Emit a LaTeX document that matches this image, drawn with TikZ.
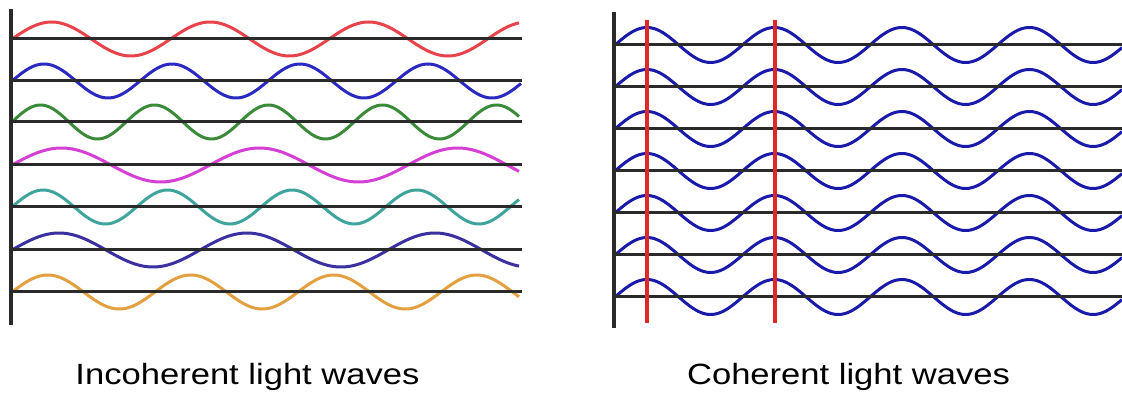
\documentclass[tikz,border=0pt]{standalone}
\usepackage{graphicx}
\usepackage{fontspec}
\setmainfont{Liberation Sans}
\definecolor{wred}{HTML}{E8434A}
\definecolor{wblue}{HTML}{2A2AC0}
\definecolor{wgreen}{HTML}{3A8A3A}
\definecolor{wmag}{HTML}{D440D4}
\definecolor{wteal}{HTML}{3FA59C}
\definecolor{wpurple}{HTML}{3A30A0}
\definecolor{worange}{HTML}{E2A040}
\definecolor{cblue}{HTML}{1A1AAA}
\definecolor{axisgray}{HTML}{2A2A2A}
\definecolor{vred}{HTML}{E02828}
\tikzset{
  baseline line/.style={draw=axisgray, line width=3pt},
  axis line/.style={draw=axisgray, line width=3.2pt},
  wave line/.style={line width=3pt, line join=round},
  marker line/.style={draw=vred, line width=3.4pt},
  caption/.style={font=\fontsize{29.3}{35}\selectfont, anchor=base, inner sep=0pt},
}
\begin{document}
\begin{tikzpicture}[x=1pt,y=-1pt]
\useasboundingbox (0,0) rectangle (1122,403);
% ---------- left panel: incoherent ----------
% colour / centre y / period / end x
\foreach \col/\yc/\per/\xe in {wred/39/158.5/519, wblue/81/128/521, wgreen/122/114/519, wmag/165/198/519, wteal/207/124.5/519, wpurple/250/188/519, worange/292/143/519}{
  \draw[wave line, draw=\col] plot[domain=12:\xe, samples=220, smooth] (\x, {\yc - 17*sin(((\x-12)/\per)*360)});
  \draw[baseline line] (11,\yc) -- (522,\yc);
}
\coordinate (laxtop) at (11,9);
\coordinate (laxbot) at (11,325);
\draw[axis line] (laxtop) -- (laxbot);
% ---------- right panel: coherent ----------
\foreach \yc in {45,87,129,171,213,255,297}{
  \draw[wave line, draw=cblue] plot[domain=615:1122, samples=220, smooth] (\x, {\yc - 17.5*sin(((\x-615)/127.5)*360)});
  \draw[baseline line] (614,\yc) -- (1122,\yc);
}
\coordinate (raxtop) at (614,12);
\coordinate (raxbot) at (614,328);
\draw[axis line] (raxtop) -- (raxbot);
\coordinate (m1top) at (647,20);
\coordinate (m1bot) at (647,323);
\coordinate (m2top) at (775,20);
\coordinate (m2bot) at (775,323);
\draw[marker line] (m1top) -- (m1bot);
\draw[marker line] (m2top) -- (m2bot);
% ---------- captions ----------
\node[caption] (lcap) at (247.5,384) {\scalebox{1.18}[1]{Incoherent light waves}};
\node[caption] (rcap) at (848.5,384) {\scalebox{1.18}[1]{Coherent light waves}};
\end{tikzpicture}
\end{document}
